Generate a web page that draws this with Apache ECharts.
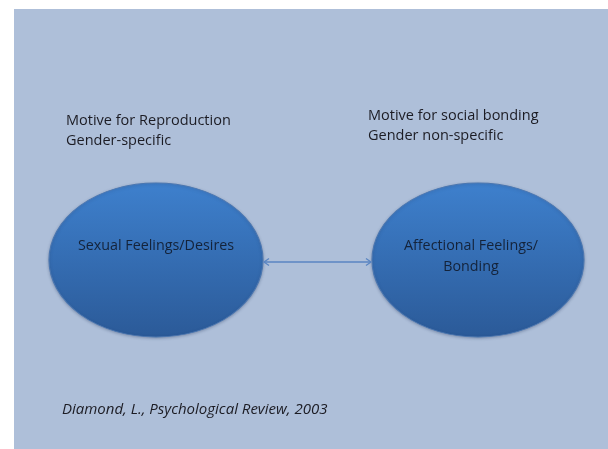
<!DOCTYPE html>
<html>
<head>
<meta charset="utf-8">
<script src="https://cdn.jsdelivr.net/npm/echarts@6/dist/echarts.min.js"></script>
<style>
  html, body { margin: 0; padding: 0; background: #fff; }
  #main { width: 608px; height: 449px; }
</style>
</head>
<body>
<div id="main"></div>
<script>
// the two concepts, their notes, and the source
const nodeLabels = ['Sexual Feelings/Desires', 'Affectional Feelings/\nBonding'];
const nodeNotes = [
  ['Motive for Reproduction', 'Gender-specific'],
  ['Motive for social bonding', 'Gender non-specific']
];
const citation = 'Diamond, L., Psychological Review, 2003';

// layout
const nodeCenters = [[156, 260], [478, 260]];
const nodeRx = [107, 106];
const nodeRy = 77;
const notePos = [[66, 121], [368, 116]];
const font = '"Open Sans", sans-serif';

const chart = echarts.init(document.getElementById('main'));

const elements = [
  {
    type: 'rect',
    shape: { x: 14, y: 9, width: 594, height: 440 },
    style: { fill: '#aebfd9' }
  }
];

nodeCenters.forEach(function (c, i) {
  elements.push({
    type: 'circle',
    x: c[0], y: c[1],
    scaleX: nodeRx[i] / nodeRy,
    shape: { cx: 0, cy: 0, r: nodeRy },
    style: {
      fill: new echarts.graphic.LinearGradient(0, 0, 0, 1, [
        { offset: 0, color: '#3e80cd' },
        { offset: 1, color: '#2b5a98' }
      ]),
      stroke: '#4a76b0',
      lineWidth: 0.8,
      shadowBlur: 3,
      shadowColor: 'rgba(40,60,100,0.35)',
      shadowOffsetY: 1
    }
  });
  elements.push({
    type: 'text',
    x: c[0] - (i === 1 ? 7 : 0), y: c[1] - 25,
    style: {
      text: nodeLabels[i],
      font: '14.3px ' + font,
      fill: '#14233a',
      align: 'center',
      verticalAlign: 'top',
      lineHeight: 21
    }
  });
  nodeNotes[i].forEach(function (t, j) {
    elements.push({
      type: 'text',
      x: notePos[i][0], y: notePos[i][1] + j * 19.5,
      style: {
        text: t,
        font: '14.5px ' + font,
        fill: '#1c1c24',
        align: 'left',
        verticalAlign: 'middle'
      }
    });
  });
});

// double-headed connector between the ellipses
const ax1 = nodeCenters[0][0] + nodeRx[0], ax2 = nodeCenters[1][0] - nodeRx[1], ay = 262;
const arrowColor = '#5a85c2';
elements.push({
  type: 'line',
  shape: { x1: ax1 + 1, y1: ay, x2: ax2 - 1, y2: ay },
  style: { stroke: arrowColor, lineWidth: 1.3 }
});
elements.push({
  type: 'polyline',
  shape: { points: [[ax1 + 6, ay - 3.5], [ax1 + 1, ay], [ax1 + 6, ay + 3.5]] },
  style: { stroke: arrowColor, lineWidth: 1.3, fill: null }
});
elements.push({
  type: 'polyline',
  shape: { points: [[ax2 - 6, ay - 3.5], [ax2 - 1, ay], [ax2 - 6, ay + 3.5]] },
  style: { stroke: arrowColor, lineWidth: 1.3, fill: null }
});

elements.push({
  type: 'text',
  x: 62, y: 410,
  style: {
    text: citation,
    font: 'italic 15px ' + font,
    fill: '#1c1c24',
    align: 'left',
    verticalAlign: 'middle'
  }
});

chart.setOption({
  animation: false,
  graphic: { elements: elements }
});
</script>
</body>
</html>
